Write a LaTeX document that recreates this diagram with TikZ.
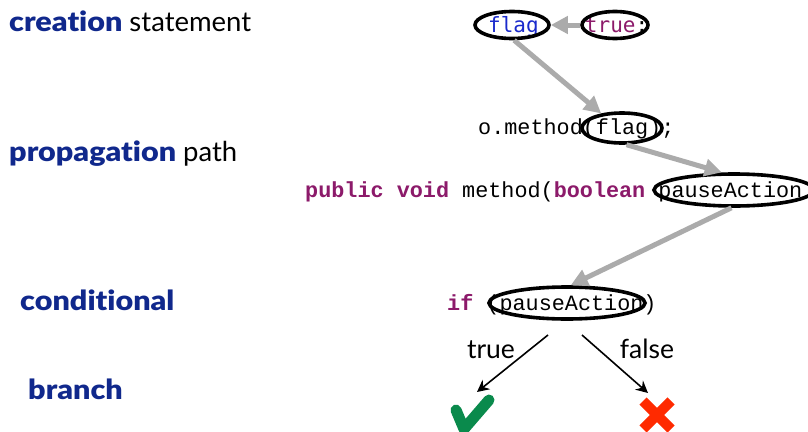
\documentclass[tikz,border=0pt]{standalone}
\usepackage{fontspec}
\usepackage{graphicx}
\setmainfont{Lato}
\newfontfamily\heavyfont{Lato Black}[Ligatures=NoCommon]
\newfontfamily\codefont{Liberation Mono}
\newfontfamily\monofont{DejaVu Sans Mono}
\usetikzlibrary{shapes.geometric,arrows.meta}
\definecolor{navy}{HTML}{10288C}
\definecolor{kw}{HTML}{8C1A6A}
\definecolor{varblue}{HTML}{1A2ACC}
\definecolor{flow}{HTML}{ABABAB}
\definecolor{okgreen}{HTML}{0A8A4C}
\definecolor{nored}{HTML}{FF2A00}
\newcommand{\rolename}[1]{\textcolor{navy}{\scalebox{1.11}[1]{\heavyfont #1}}}
\begin{document}
\begin{tikzpicture}[x=1pt,y=-1pt,
  role/.style={anchor=base west,inner sep=0pt,font=\fontsize{27.5}{30}\selectfont},
  code/.style={anchor=base west,inner sep=0pt,font=\codefont\fontsize{21.8}{24}\selectfont},
  ring/.style={draw,line width=3.6pt,ellipse,inner sep=0pt},
  flowarrow/.style={draw=flow,line width=5pt,-{Triangle[length=17pt,width=17pt]}},
  branchline/.style={draw,line width=1.6pt,-{Stealth[length=12pt,width=12pt,inset=4pt]}},
  branchlabel/.style={anchor=base,inner sep=0pt,font=\fontsize{26.5}{28}\selectfont}]
\useasboundingbox (0,0) rectangle (808,431);

% row labels
\node[role] (lcreate) at (9,31) {\rolename{creation} statement};
\node[role] (lprop) at (9,161) {\rolename{propagation} path};
\node[role] (lcond) at (20,310) {\rolename{conditional}};
\node[role] (lbranch) at (28,399) {\rolename{branch}};

% creation statement
\node[anchor=base west,inner sep=0pt,font=\monofont\fontsize{21}{24}\selectfont] (stmt) at (488,32)
  {\textcolor{varblue}{flag}\hspace{2.2em}\textcolor{kw}{true}:};
\node[ring,minimum width=74pt,minimum height=27pt] (eflag) at (512,25) {};
\node[ring,minimum width=66pt,minimum height=27pt] (etrue) at (615,25) {};

% call site
\node[code] (call) at (478,134) {o.method(flag);};
\node[ring,minimum width=80pt,minimum height=30pt] (eargs) at (622,128) {};

% declaration
\node[code] (decl) at (305,197) {\textcolor{kw}{\textbf{public void}} method(\textcolor{kw}{\textbf{boolean}} pauseAction};
\node[ring,minimum width=160pt,minimum height=32pt] (eparam) at (734,190) {};

% conditional
\node[code] (cond) at (447,310) {\textcolor{kw}{\textbf{if}} (pauseAction)};
\node[ring,minimum width=156pt,minimum height=32pt] (econd) at (567,303) {};

% data flow
\draw[flowarrow] (etrue.west) -- (eflag.east);
\draw[flowarrow] (eflag.-82) -- (eargs.145);
\draw[flowarrow] (eargs.-75) -- (eparam.125);
\draw[flowarrow] (eparam.-98) -- (econd.78);

% branches
\coordinate (tstart) at (548,335);
\coordinate (tend) at (477,392);
\coordinate (fstart) at (582,335);
\coordinate (fend) at (648,393);
\draw[branchline] (tstart) -- (tend);
\draw[branchline] (fstart) -- (fend);
\node[branchlabel] (ltrue) at (491,358) {true};
\node[branchlabel] (lfalse) at (647,358) {false};

% check mark and cross
\draw[okgreen,line width=11pt,line cap=round,line join=round]
  (456,410) .. controls (460,419) .. (464,429) -- (489,400);
\begin{scope}[nored,line width=10pt]
  \draw (643,401) -- (671,429);
  \draw (671,401) -- (643,429);
\end{scope}
\end{tikzpicture}
\end{document}
